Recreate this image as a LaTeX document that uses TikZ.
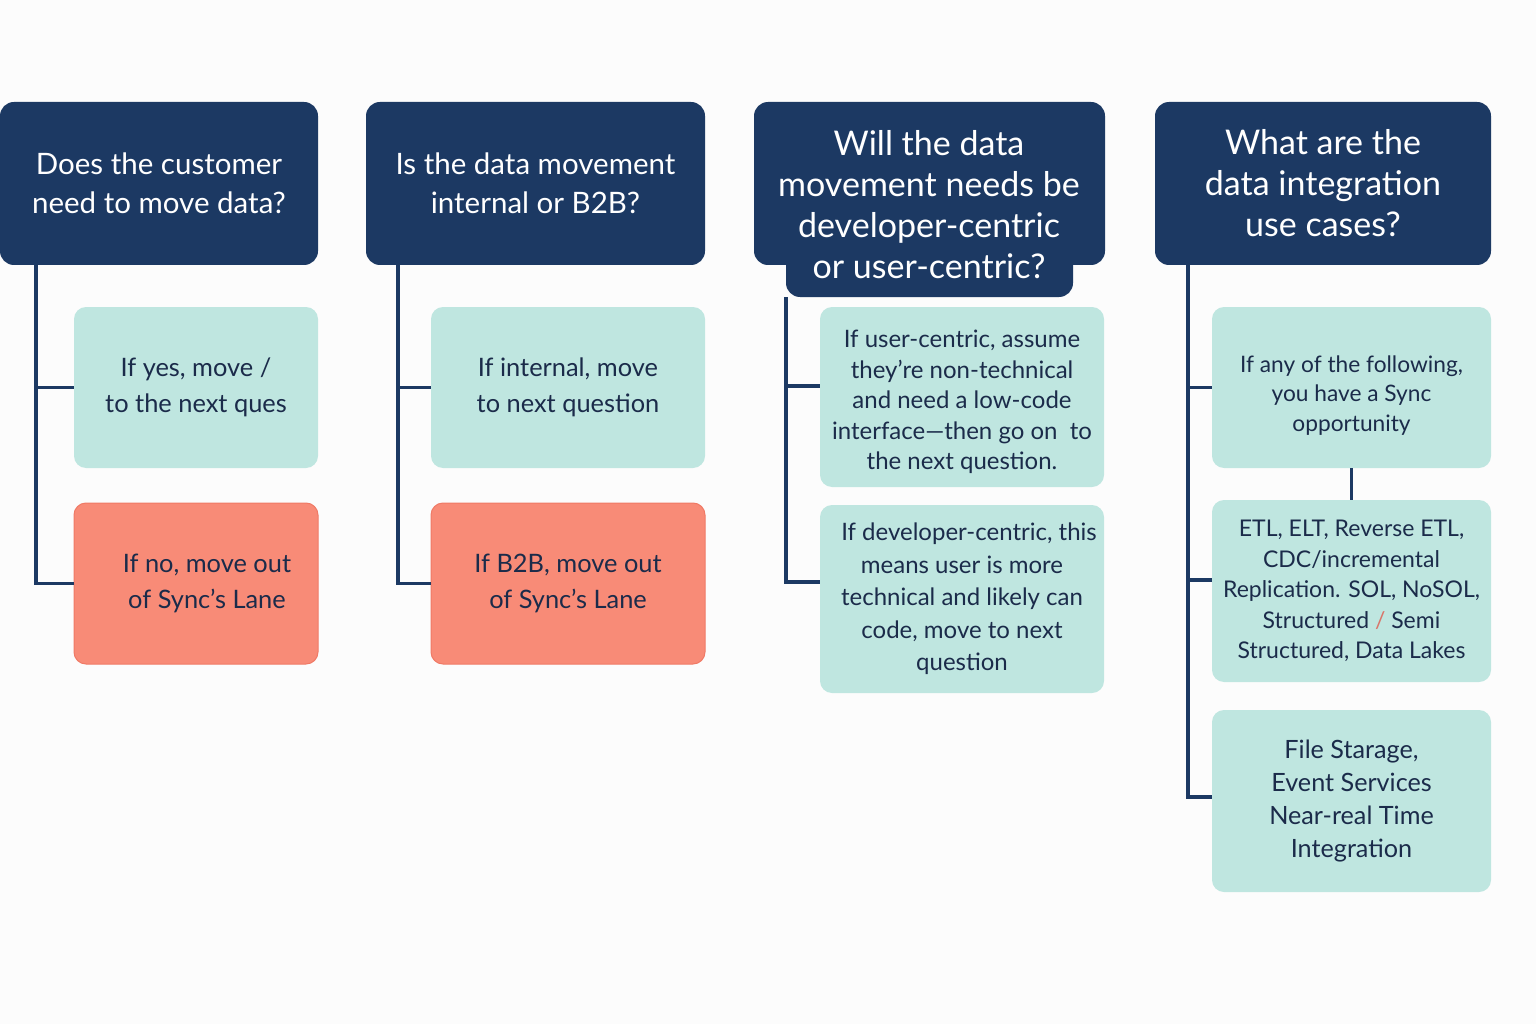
\documentclass[tikz,border=0pt]{standalone}
\usepackage{fontspec}
\setmainfont{Lato}
\usetikzlibrary{calc}
\definecolor{navy}{HTML}{1C3963}
\definecolor{tealc}{HTML}{BFE6E0}
\definecolor{salmon}{HTML}{F88B77}
\definecolor{salmonedge}{HTML}{F07A66}
\definecolor{ink}{HTML}{1B2B4A}
\definecolor{bgc}{HTML}{FCFCFC}
\definecolor{slash}{HTML}{D9766A}
\begin{document}
\begin{tikzpicture}[x=1pt,y=-1pt,
  hdr/.style={fill=navy, rounded corners=14pt, text=white, align=center, inner sep=0pt},
  hdrtxt/.style={text=white, align=center, inner sep=0pt},
  tbox/.style={fill=tealc, rounded corners=12pt, text=ink, align=center, inner sep=0pt},
  rbox/.style={fill=salmon, draw=salmonedge, line width=1pt, rounded corners=12pt, text=ink, align=center, inner sep=0pt},
  btxt/.style={text=ink, align=center, inner sep=0pt},
  wire/.style={draw=navy, line width=3.5pt},
  hfont/.style={font=\fontsize{29.5}{39}\selectfont},
  hbig/.style={font=\fontsize{34}{41}\selectfont},
  bfont/.style={font=\fontsize{25.4}{36}\selectfont},
  sfont/.style={font=\fontsize{24}{30.5}\selectfont},
  s3font/.style={font=\fontsize{24}{32.5}\selectfont},
  s4font/.style={font=\fontsize{22.7}{29.5}\selectfont},
  s5font/.style={font=\fontsize{23}{30.5}\selectfont},
]
\fill[bgc] (0,0) rectangle (1536,1024);
\useasboundingbox (0,0) rectangle (1536,1024);

% headers
\node[hdr, hfont, minimum width=318pt, minimum height=163pt] (h1) at (159,183.5)
  {Does the customer\\need to move data?};
\node[hdr, hfont, minimum width=339pt, minimum height=163pt] (h2) at (535.5,183.5)
  {Is the data movement\\internal or B2B?};
\node[hdr, minimum width=351pt, minimum height=163pt] (h3) at (929.5,183.5) {};
\node[hdr, minimum width=287pt, minimum height=60pt] (h3tab) at (929.5,267) {};
\node[hdrtxt, hbig] (h3t) at (929,205)
  {Will the data\\movement needs be\\developer-centric\\or user-centric?};
\node[hdr, hbig, minimum width=336pt, minimum height=163pt] (h4) at (1323,183.5)
  {What are the\\data integration\\use cases?};

% column 1
\node[tbox, bfont, minimum width=244pt, minimum height=161pt] (b1a) at (196,387.5)
  {If yes, move /\\to the next ques};
\node[rbox, bfont, minimum width=244pt, minimum height=161pt] (b1b) at (196,583.5)
  {\hspace*{22pt}If no, move out\\\hspace*{22pt}of Sync's Lane};
% column 2
\node[tbox, bfont, minimum width=274pt, minimum height=161pt] (b2a) at (568,387.5)
  {If internal, move\\to next question};
\node[rbox, bfont, minimum width=274pt, minimum height=161pt] (b2b) at (568,583.5)
  {If B2B, move out\\of Sync's Lane};
% column 3
\node[tbox, minimum width=284pt, minimum height=180pt] (b3a) at (962,397) {};
\node[btxt, sfont] (b3at) at (962,402)
  {If user-centric, assume\\they're non-technical\\and need a low-code\\interface—then go on\ \ to\\the next question.};
\node[tbox, s3font, minimum width=284pt, minimum height=188pt] (b3b) at (962,599)
  {\hspace*{14pt}If developer-centric, this\\means user is more\\technical and likely can\\code, move to next\\question};
% column 4
\node[tbox, minimum width=279pt, minimum height=161pt] (b4a) at (1351.5,387.5) {};
\node[btxt, s4font] (b4at) at (1351.5,395.5)
  {If any of the following,\\you have a Sync\\opportunity};
\node[tbox, s5font, minimum width=279pt, minimum height=182pt] (b4b) at (1351.5,591)
  {ETL, ELT, Reverse ETL,\\CDC/incremental\\Replication. SOL, NoSOL,\\Structured {\color{slash}/} Semi\\Structured, Data Lakes};
\node[tbox, font=\fontsize{25.2}{32.7}\selectfont, minimum width=279pt, minimum height=182pt] (b4c) at (1351.5,801)
  {File Starage,\\Event Services\\Near-real Time\\Integration};

% connectors
\coordinate (c1) at (36,265);
\draw[wire] (c1) |- (b1b.west);
\draw[wire] (c1 |- b1a.west) -- (b1a.west);

\coordinate (c2) at (398,265);
\draw[wire] (c2) |- (b2b.west);
\draw[wire] (c2 |- b2a.west) -- (b2a.west);

\coordinate (c3) at (786,297);
\coordinate (k3a) at ([yshift=11pt]b3a.west);
\coordinate (k3b) at ([yshift=17pt]b3b.west);
\draw[wire] (c3) |- (k3b);
\draw[wire] (c3 |- k3a) -- (k3a);

\coordinate (c4) at (1188,265);
\coordinate (k4b) at ([yshift=11pt]b4b.west);
\coordinate (k4c) at ([yshift=4pt]b4c.west);
\draw[wire] (c4) |- (k4c);
\draw[wire] (c4 |- b4a.west) -- (b4a.west);
\draw[wire] (c4 |- k4b) -- (k4b);
\draw[wire] (b4a.south) -- (b4b.north);
\end{tikzpicture}
\end{document}
